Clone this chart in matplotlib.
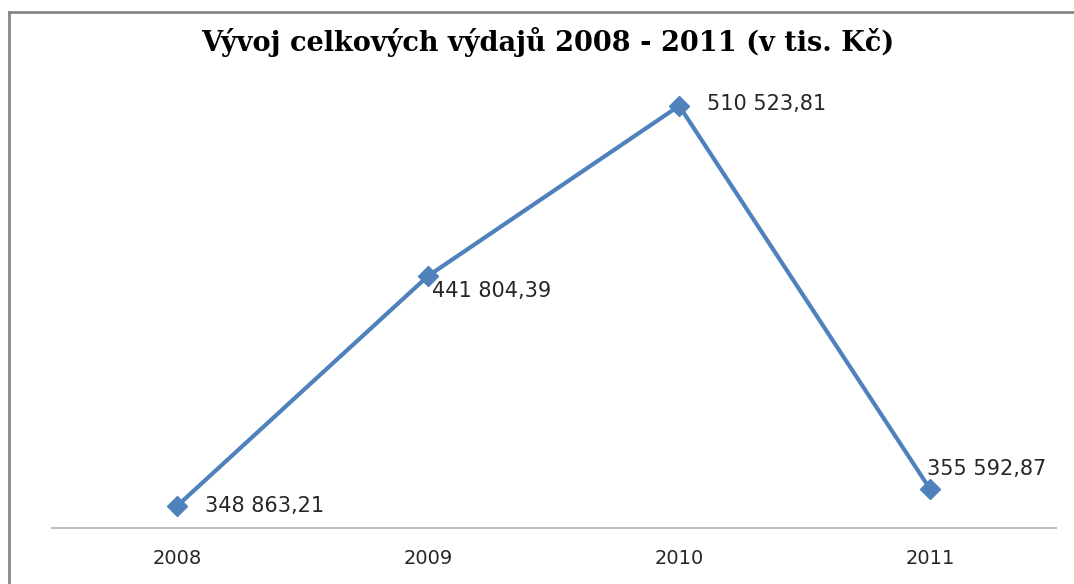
import matplotlib.pyplot as plt
from matplotlib.lines import Line2D

# data
years = ["2008", "2009", "2010", "2011"]
spending = [348863.21, 441804.39, 510523.81, 355592.87]

# label offsets in points (placement like the original)
label_offsets = [(20, 0), (3, -11), (20, 1), (-2, 15)]

blue = "#4F81BD"


def fmt(v):
    s = f"{v:,.2f}"
    return s.replace(",", " ").replace(".", ",")


fig = plt.figure(figsize=(10.74, 5.84), dpi=100)
ax = fig.add_axes([0.048, 0.096, 0.935, 0.763])

x = range(len(years))
ax.plot(x, spending, color=blue, lw=3, marker="D", markersize=10,
        markeredgecolor=blue, solid_joinstyle="miter", zorder=3)

for i, v in enumerate(spending):
    ax.annotate(fmt(v), (i, v), xytext=label_offsets[i],
                textcoords="offset points", ha="left", va="center",
                fontsize=15, color="#262626", family="DejaVu Sans")

ax.set_xlim(-0.5, len(years) - 0.5)
ax.set_ylim(340000, 520000)
ax.set_xticks(list(x))
ax.set_xticklabels(years, fontsize=14, color="#262626")
ax.tick_params(axis="x", length=0, pad=15.5)
ax.set_yticks([])

for side in ["top", "right", "left"]:
    ax.spines[side].set_visible(False)
ax.spines["bottom"].set_color("#BFBFBF")
ax.spines["bottom"].set_linewidth(1.5)

fig.text(0.51, 0.928, "Vývoj celkových výdajů 2008 - 2011 (v tis. Kč)",
         ha="center", va="center", fontsize=19.5, fontweight="bold",
         family="DejaVu Serif")

# chart frame (top and left edges visible)
fig.add_artist(Line2D([0.0085, 1.0], [0.979, 0.979], color="#868686",
                      lw=2, transform=fig.transFigure))
fig.add_artist(Line2D([0.0085, 0.0085], [0.0, 0.979], color="#868686",
                      lw=2, transform=fig.transFigure))

plt.savefig("out.png", dpi=100)
